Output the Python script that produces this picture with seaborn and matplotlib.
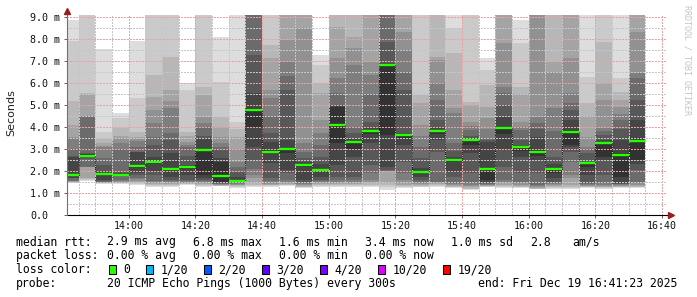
import numpy as np
import matplotlib
matplotlib.use("Agg")
import matplotlib.pyplot as plt
from matplotlib.patches import Rectangle
import seaborn as sns

# ---------------- data ----------------
bin_starts = ["13:40", "13:45", "13:50", "13:55", "14:00", "14:05", "14:10", "14:15",
              "14:20", "14:25", "14:30", "14:35", "14:40", "14:45", "14:50", "14:55",
              "15:00", "15:05", "15:10", "15:15", "15:20", "15:25", "15:30", "15:35",
              "15:40", "15:45", "15:50", "15:55", "16:00", "16:05", "16:10", "16:15",
              "16:20", "16:25", "16:30"]
window_start = "13:41:23"
window_end = "16:41:23"
x_tick_labels = ["14:00", "14:20", "14:40", "15:00", "15:20", "15:40", "16:00", "16:20", "16:40"]
y_tick_values = [0, 1, 2, 3, 4, 5, 6, 7, 8, 9]
y_tick_labels = ["0.0", "1.0 m", "2.0 m", "3.0 m", "4.0 m", "5.0 m", "6.0 m", "7.0 m", "8.0 m", "9.0 m"]

# median rtt per 5-minute bin (ms)
medians = [1.83, 2.70, 1.86, 1.83, 2.21, 2.39, 2.08, 2.20, 2.94, 1.79, 1.56, 4.79,
           2.88, 3.00, 2.29, 2.06, 4.11, 3.30, 3.83, 6.80, 3.62, 1.97, 3.83, 2.50,
           3.39, 2.09, 3.97, 3.09, 2.88, 2.11, 3.76, 2.35, 3.29, 2.73, 3.38]

# 20 sorted ping rtts per bin (ms)
bar_1340 = [1.44, 1.46, 1.48, 1.50, 1.53, 1.54, 1.55, 1.66, 1.68, 1.80, 1.88, 2.62, 2.70, 3.00, 3.48, 3.55, 4.10, 5.20, 7.92, 8.86]
bar_1345 = [1.56, 1.58, 1.62, 1.67, 2.16, 2.18, 2.20, 2.55, 2.62, 2.68, 2.75, 2.78, 2.80, 4.46, 4.48, 4.50, 5.50, 5.53, 9.30, 9.60]
bar_1350 = [1.42, 1.44, 1.45, 1.46, 1.47, 1.48, 1.50, 1.55, 1.59, 1.82, 1.89, 2.00, 2.27, 2.60, 3.10, 3.15, 3.26, 3.48, 3.79, 7.53]
bar_1355 = [1.42, 1.44, 1.45, 1.47, 1.50, 1.55, 1.59, 1.76, 1.78, 1.80, 1.88, 1.92, 1.97, 3.00, 3.26, 3.48, 3.60, 3.94, 4.39, 4.62]
bar_1400 = [1.36, 1.40, 1.45, 1.50, 1.55, 1.62, 1.70, 1.80, 1.89, 2.15, 2.27, 2.86, 2.88, 3.10, 3.38, 3.45, 3.56, 3.79, 5.30, 7.92]
bar_1405 = [1.29, 1.31, 1.35, 1.40, 1.45, 1.50, 1.55, 1.82, 2.00, 2.30, 2.42, 2.65, 3.18, 3.56, 4.20, 4.77, 5.38, 6.36, 9.30, 9.60]
bar_1410 = [1.29, 1.32, 1.35, 1.40, 1.45, 1.50, 1.55, 1.60, 1.74, 2.00, 2.15, 2.80, 3.41, 3.71, 4.85, 5.20, 5.68, 7.20, 9.30, 9.60]
bar_1415 = [1.38, 1.40, 1.42, 1.44, 1.47, 1.50, 1.55, 1.60, 1.82, 2.10, 2.23, 2.27, 2.70, 3.10, 3.20, 3.33, 3.60, 3.79, 5.68, 5.98]
bar_1420 = [1.28, 1.30, 1.35, 1.40, 1.45, 1.50, 1.55, 1.60, 1.67, 1.82, 2.98, 3.48, 3.60, 4.02, 4.20, 4.47, 5.45, 5.83, 9.30, 9.60]
bar_1425 = [1.32, 1.33, 1.34, 1.36, 1.38, 1.40, 1.42, 1.44, 1.46, 1.48, 2.42, 2.60, 2.95, 3.10, 3.26, 3.56, 4.00, 4.47, 6.06, 8.11]
bar_1430 = [1.24, 1.28, 1.32, 1.35, 1.38, 1.41, 1.47, 1.48, 1.50, 1.52, 1.60, 1.74, 1.97, 2.20, 2.42, 3.00, 3.56, 3.90, 4.24, 9.50]
bar_1435 = [1.25, 1.32, 1.38, 1.44, 1.70, 1.82, 2.10, 2.50, 3.10, 4.02, 4.85, 5.53, 7.27, 9.30, 9.50, 9.70, 9.90, 10.2, 10.5, 11.0]
bar_1440 = [1.29, 1.32, 1.35, 1.38, 1.42, 1.45, 1.55, 1.67, 2.35, 2.80, 2.95, 3.33, 3.71, 4.50, 5.30, 5.68, 7.12, 7.73, 9.30, 9.60]
bar_1445 = [1.32, 1.35, 1.38, 1.42, 1.45, 1.50, 1.60, 1.90, 2.05, 2.80, 3.05, 3.41, 5.68, 6.30, 6.97, 7.95, 9.30, 9.50, 9.80, 10.0]
bar_1450 = [1.23, 1.26, 1.29, 1.32, 1.35, 1.40, 1.45, 1.50, 1.59, 2.20, 2.33, 2.42, 2.60, 2.88, 3.26, 8.48, 9.40, 9.60, 9.80, 10.2]
bar_1455 = [1.28, 1.32, 1.36, 1.40, 1.45, 1.50, 1.55, 1.60, 1.74, 1.98, 2.10, 2.30, 2.65, 3.18, 3.71, 4.32, 5.53, 5.98, 6.82, 7.27]
bar_1500 = [1.28, 1.31, 1.35, 1.40, 1.45, 1.52, 1.60, 1.74, 2.27, 3.26, 4.92, 4.95, 5.00, 5.53, 6.21, 7.12, 8.56, 9.20, 9.30, 9.60]
bar_1505 = [1.28, 1.31, 1.35, 1.40, 1.45, 1.52, 1.60, 1.74, 2.65, 3.00, 3.35, 3.45, 3.71, 4.02, 6.82, 7.58, 8.11, 9.30, 9.50, 9.80]
bar_1510 = [1.29, 1.32, 1.38, 1.45, 1.50, 1.59, 1.89, 2.27, 3.26, 3.70, 3.86, 3.94, 4.24, 5.50, 6.36, 6.97, 9.30, 9.50, 9.80, 10.0]
bar_1515 = [1.14, 1.25, 1.35, 1.44, 1.98, 2.00, 2.02, 2.05, 2.20, 3.64, 6.85, 6.89, 7.88, 9.30, 9.60, 9.90, 10.2, 10.5, 11.0, 11.5]
bar_1520 = [1.24, 1.28, 1.33, 1.38, 1.45, 1.60, 1.89, 2.42, 3.18, 3.50, 3.64, 3.71, 5.68, 6.50, 7.50, 8.33, 9.30, 9.50, 9.80, 10.0]
bar_1525 = [1.27, 1.29, 1.32, 1.36, 1.40, 1.45, 1.50, 1.59, 1.74, 1.90, 2.00, 2.12, 2.60, 3.11, 3.60, 4.09, 5.08, 5.45, 9.30, 9.60]
bar_1530 = [1.29, 1.32, 1.36, 1.41, 1.45, 1.50, 1.52, 2.88, 3.41, 3.70, 3.86, 3.94, 4.32, 5.23, 6.00, 7.05, 7.20, 9.30, 9.50, 9.80]
bar_1535 = [1.23, 1.26, 1.29, 1.32, 1.35, 1.40, 1.44, 1.74, 1.97, 2.40, 2.52, 2.65, 2.90, 3.26, 4.62, 4.85, 5.68, 7.35, 8.48, 9.20]
bar_1540 = [1.14, 1.17, 1.20, 1.26, 1.32, 1.38, 1.44, 1.89, 2.80, 3.20, 3.42, 3.48, 3.60, 3.86, 4.05, 4.24, 5.00, 5.15, 9.30, 9.60]
bar_1545 = [1.28, 1.29, 1.30, 1.32, 1.35, 1.38, 1.42, 1.45, 1.50, 1.59, 2.15, 3.33, 3.40, 3.48, 3.90, 4.39, 4.92, 5.91, 6.59, 7.12]
bar_1550 = [1.22, 1.28, 1.33, 1.38, 1.44, 1.50, 1.59, 2.20, 3.00, 3.70, 4.02, 4.47, 5.00, 5.53, 5.83, 7.80, 9.30, 9.50, 9.80, 10.0]
bar_1555 = [1.23, 1.26, 1.29, 1.33, 1.38, 1.45, 1.52, 1.89, 2.65, 2.90, 3.12, 3.20, 3.41, 3.86, 4.00, 4.24, 5.50, 5.83, 7.80, 8.86]
bar_1600 = [1.16, 1.18, 1.20, 1.23, 1.26, 1.30, 1.36, 1.89, 2.50, 2.70, 2.95, 3.56, 3.90, 4.17, 4.47, 9.30, 9.50, 9.70, 10.0, 10.5]
bar_1605 = [1.20, 1.23, 1.26, 1.30, 1.35, 1.40, 1.45, 1.52, 1.67, 1.90, 2.15, 2.30, 2.65, 3.80, 4.85, 6.52, 6.97, 9.30, 9.50, 9.80]
bar_1610 = [1.20, 1.23, 1.28, 1.36, 1.70, 1.82, 2.42, 2.88, 3.10, 3.18, 3.86, 4.30, 4.77, 5.10, 5.53, 7.12, 9.30, 9.50, 9.80, 10.0]
bar_1615 = [1.23, 1.25, 1.27, 1.30, 1.33, 1.36, 1.40, 1.44, 1.82, 2.20, 2.38, 2.42, 2.80, 3.00, 3.11, 3.56, 4.50, 5.08, 6.29, 9.20]
bar_1620 = [1.20, 1.23, 1.26, 1.29, 1.33, 1.38, 1.44, 1.82, 2.50, 2.65, 3.31, 3.40, 3.64, 3.80, 3.94, 5.23, 5.98, 7.88, 9.30, 9.60]
bar_1625 = [1.23, 1.25, 1.27, 1.30, 1.33, 1.36, 1.40, 1.42, 1.44, 1.74, 2.80, 3.41, 3.90, 4.32, 4.60, 4.92, 5.23, 5.60, 6.21, 9.20]
bar_1630 = [1.23, 1.26, 1.29, 1.33, 1.38, 1.45, 1.52, 2.05, 2.30, 2.50, 3.48, 4.32, 5.23, 6.21, 6.44, 8.33, 9.30, 9.50, 9.80, 10.0]

median_stats = ["2.9 ms avg", "6.8 ms max", "1.6 ms min", "3.4 ms now", "1.0 ms sd", "2.8", "am/s"]
loss_stats = ["0.00 % avg", "0.00 % max", "0.00 % min", "0.00 % now"]
loss_labels = ["0", "1/20", "2/20", "3/20", "4/20", "10/20", "19/20"]
loss_colors = ["#26ff00", "#00b8ff", "#0059ff", "#5e00ff", "#7e00ff", "#dd00ff", "#ff0000"]
probe_text = "20 ICMP Echo Pings (1000 Bytes) every 300s"
end_text = "end: Fri Dec 19 16:41:23 2025"

# ---------------- helpers ----------------
def minutes(t):
    parts = [int(v) for v in t.split(":")]
    while len(parts) < 3:
        parts.append(0)
    return parts[0] * 60 + parts[1] + parts[2] / 60.0

smoke = np.array([bar_1340, bar_1345, bar_1350, bar_1355, bar_1400, bar_1405, bar_1410,
                  bar_1415, bar_1420, bar_1425, bar_1430, bar_1435, bar_1440, bar_1445,
                  bar_1450, bar_1455, bar_1500, bar_1505, bar_1510, bar_1515, bar_1520,
                  bar_1525, bar_1530, bar_1535, bar_1540, bar_1545, bar_1550, bar_1555,
                  bar_1600, bar_1605, bar_1610, bar_1615, bar_1620, bar_1625, bar_1630])
starts = np.array([minutes(t) for t in bin_starts])
bin_width = 5.0
med = np.array(medians)

# ---------------- figure ----------------
sns.set_theme(style="white")
plt.rcParams['font.family'] = ['DejaVu Sans Mono', 'DejaVu Sans']

W, H = 697, 297
fig = plt.figure(figsize=(W / 100, H / 100), dpi=100)
fig.patch.set_facecolor("white")

def fx(x):
    return x / W

def fy(y):
    return 1 - y / H

L, R, T, B = 66.7, 666.7, 15.0, 215.0
ax = fig.add_axes([fx(L), fy(B), (R - L) / W, (B - T) / H])
ax.set_facecolor("white")

# smoke bands (outermost lightest, innermost darkest)
npings = smoke.shape[1]
half = npings // 2
for i in range(1, half + 1):
    g = int(190 / half * (half - i)) + 50
    col = (g / 255, g / 255, g / 255)
    lo = smoke[:, i - 1]
    hi = smoke[:, npings - i]
    ax.bar(starts, hi - lo, bottom=lo, width=bin_width, align="edge",
           color=col, linewidth=0, antialiased=False, zorder=1)

# dotted median connector (step line)
xs = np.append(starts, starts[-1] + bin_width)
ys = np.append(med, med[-1])
sns.lineplot(x=xs, y=ys, ax=ax, drawstyle="steps-post", color="#151515",
             linewidth=0.75, linestyle=(0, (1, 1)), zorder=3, legend=False,
             estimator=None, sort=False)

# green median segments
ax.hlines(med, starts, starts + bin_width, colors=loss_colors[0], linewidth=1.7, zorder=4)

ax.set_xlim(minutes(window_start), minutes(window_end))
ax.set_ylim(0, 9.09)

major_x = [minutes(t) for t in x_tick_labels]
ax.set_xticks(major_x)
ax.set_xticklabels(x_tick_labels)
ax.set_xticks(np.arange(minutes("13:45"), minutes("16:41"), 5), minor=True)
ax.set_yticks(y_tick_values)
ax.set_yticklabels(y_tick_labels)
ax.set_yticks(np.arange(0.5, 9.01, 1.0), minor=True)

ax.set_axisbelow(False)
ax.grid(which="major", color="#eaa2a2", linewidth=0.72, linestyle=(0, (1.2, 1.8)),
        antialiased=False)
ax.grid(which="minor", color="#c6c6c6", linewidth=0.72, linestyle=(0, (1.2, 1.8)),
        antialiased=False)

for s in ax.spines.values():
    s.set_visible(False)

ax.tick_params(axis="x", which="major", length=2, width=0.7, color="#666666",
               pad=2, labelsize=7.2, labelcolor="#111111", direction="out", bottom=True)
ax.tick_params(axis="x", which="minor", length=0)
ax.tick_params(axis="y", which="major", length=2, width=0.7, color="#666666",
               pad=24.4, labelsize=7.2, labelcolor="#111111", direction="out", left=True)
ax.tick_params(axis="y", which="minor", length=0)
for lbl in ax.get_yticklabels():
    lbl.set_horizontalalignment("left")
ax.set_xlabel("")
ax.set_ylabel("")

# axis lines with arrows
ax.plot([0, (669 - L) / (R - L)], [0, 0], transform=ax.transAxes, color="black",
        linewidth=0.8, clip_on=False, zorder=5)
ax.plot([0, 0], [0, (B - 12) / (B - T)], transform=ax.transAxes, color="#707070",
        linewidth=0.8, clip_on=False, zorder=5)
ax.plot([(671 - L) / (R - L)], [0], transform=ax.transAxes, marker=">", markersize=4.5,
        color="#9b1c1c", clip_on=False, zorder=6, linestyle="none")
ax.plot([0], [(B - 10.5) / (B - T)], transform=ax.transAxes, marker="^", markersize=4.5,
        color="#9b1c1c", clip_on=False, zorder=6, linestyle="none")

# y label
fig.text(fx(10.8), fy(113), "Seconds", rotation=90, ha="center", va="center",
         fontsize=8, family=["DejaVu Sans"], color="#222222")

# watermark
fig.text(fx(687), fy(60), "RRDTOOL / TOBI OETIKER", rotation=270, ha="center", va="center",
         fontsize=6, color="#c4c4c4")

# legend area
FS = 8.3
base = [245.5, 259.3, 273.2, 287.0]
col_x = [107.3, 193.3, 279.3, 365.3, 451.3, 529.7, 572.0]
fig.text(fx(16), fy(base[0]), "median rtt:", fontsize=FS, va="baseline", color="black")
for txt, x in zip(median_stats, col_x):
    fig.text(fx(x), fy(base[0]), txt, fontsize=FS, va="baseline", color="black")
fig.text(fx(16), fy(base[1]), "packet loss:", fontsize=FS, va="baseline", color="black")
for txt, x in zip(loss_stats, col_x):
    fig.text(fx(x), fy(base[1]), txt, fontsize=FS, va="baseline", color="black")
fig.text(fx(16), fy(base[2]), "loss color:", fontsize=FS, va="baseline", color="black")
box_x = [108.7, 145.7, 204.0, 261.7, 320.0, 377.7, 442.7]
for lab, c, bx in zip(loss_labels, loss_colors, box_x):
    fig.patches.append(Rectangle((fx(bx), fy(274.3)), 7 / W, 9.8 / H,
                                 transform=fig.transFigure, facecolor=c,
                                 edgecolor="black", linewidth=0.75, figure=fig))
    fig.text(fx(bx + 14.6), fy(base[2]), lab, fontsize=FS, va="baseline", color="black")
fig.text(fx(16), fy(base[3]), "probe:", fontsize=FS, va="baseline", color="black")
fig.text(fx(107.3), fy(base[3]), probe_text, fontsize=FS, va="baseline", color="black")
fig.text(fx(478), fy(base[3]), end_text, fontsize=FS, va="baseline", color="black")

fig.savefig("out.png", dpi=100, facecolor="white")
